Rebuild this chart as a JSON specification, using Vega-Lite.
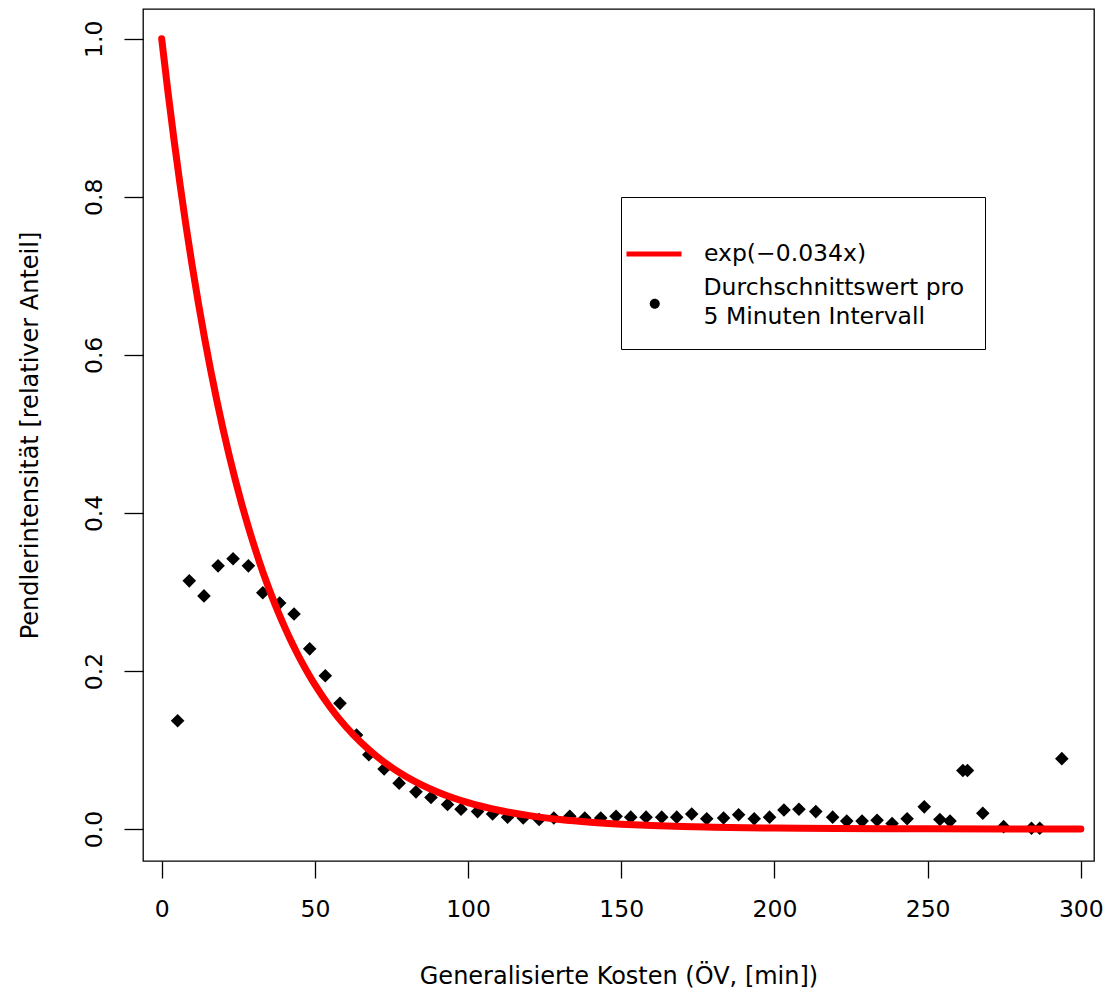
{
  "$schema": "https://vega.github.io/schema/vega-lite/v6.json",
  "width": 951,
  "height": 852,
  "autosize": {"type": "none"},
  "padding": {"left": 143, "top": 9, "right": 15, "bottom": 131},
  "background": "white",
  "config": {
    "view": {"stroke": "black", "strokeWidth": 1.3},
    "font": "DejaVu Sans",
    "style": {"guide-label": {"lineHeight": 29}}
  },
  "resolve": {"scale": {"color": "independent"}, "legend": {"color": "independent"}},
  "datasets": {
    "pts": [
      {"x": 5.2, "y": 0.137}, {"x": 9.0, "y": 0.314}, {"x": 13.8, "y": 0.295}, {"x": 18.4, "y": 0.333},
      {"x": 23.3, "y": 0.342}, {"x": 28.3, "y": 0.333}, {"x": 33.0, "y": 0.299}, {"x": 38.5, "y": 0.286},
      {"x": 43.2, "y": 0.272}, {"x": 48.3, "y": 0.228}, {"x": 53.4, "y": 0.194}, {"x": 58.2, "y": 0.159},
      {"x": 63.6, "y": 0.119}, {"x": 67.6, "y": 0.094}, {"x": 72.6, "y": 0.076}, {"x": 77.5, "y": 0.058},
      {"x": 83.0, "y": 0.047}, {"x": 87.9, "y": 0.040}, {"x": 93.3, "y": 0.031}, {"x": 97.7, "y": 0.025},
      {"x": 103.1, "y": 0.022}, {"x": 108.0, "y": 0.019}, {"x": 112.9, "y": 0.015}, {"x": 118.0, "y": 0.014},
      {"x": 123.2, "y": 0.012}, {"x": 128.0, "y": 0.014}, {"x": 133.2, "y": 0.016}, {"x": 138.1, "y": 0.014},
      {"x": 143.3, "y": 0.014}, {"x": 148.3, "y": 0.016}, {"x": 153.1, "y": 0.015}, {"x": 158.1, "y": 0.015},
      {"x": 163.2, "y": 0.015}, {"x": 168.1, "y": 0.015}, {"x": 173.0, "y": 0.019}, {"x": 177.9, "y": 0.013},
      {"x": 183.4, "y": 0.014}, {"x": 188.3, "y": 0.018}, {"x": 193.4, "y": 0.013}, {"x": 198.4, "y": 0.015},
      {"x": 203.1, "y": 0.024}, {"x": 208.0, "y": 0.025}, {"x": 213.5, "y": 0.022}, {"x": 219.0, "y": 0.015},
      {"x": 223.6, "y": 0.010}, {"x": 228.6, "y": 0.010}, {"x": 233.5, "y": 0.011}, {"x": 238.4, "y": 0.007},
      {"x": 243.3, "y": 0.013}, {"x": 248.9, "y": 0.028}, {"x": 254.0, "y": 0.012}, {"x": 257.3, "y": 0.010},
      {"x": 261.5, "y": 0.074}, {"x": 263.0, "y": 0.074}, {"x": 268.0, "y": 0.020}, {"x": 274.8, "y": 0.003},
      {"x": 283.9, "y": 0.001}, {"x": 286.6, "y": 0.001}, {"x": 293.8, "y": 0.089}
    ],
    "curve": [
      {"x": 0, "y": 1}, {"x": 2, "y": 0.93426}, {"x": 4, "y": 0.87284}, {"x": 6, "y": 0.81546},
      {"x": 8, "y": 0.76185}, {"x": 10, "y": 0.71177}, {"x": 12, "y": 0.66498}, {"x": 14, "y": 0.62126},
      {"x": 16, "y": 0.58042}, {"x": 18, "y": 0.54226}, {"x": 20, "y": 0.50662}, {"x": 22, "y": 0.47331},
      {"x": 24, "y": 0.4422}, {"x": 26, "y": 0.41313}, {"x": 28, "y": 0.38597}, {"x": 30, "y": 0.36059},
      {"x": 32, "y": 0.33689}, {"x": 34, "y": 0.31474}, {"x": 36, "y": 0.29405}, {"x": 38, "y": 0.27472},
      {"x": 40, "y": 0.25666}, {"x": 42, "y": 0.23979}, {"x": 44, "y": 0.22402}, {"x": 46, "y": 0.2093},
      {"x": 48, "y": 0.19554}, {"x": 50, "y": 0.18268}, {"x": 55, "y": 0.15412}, {"x": 60, "y": 0.13003},
      {"x": 65, "y": 0.1097}, {"x": 70, "y": 0.09255}, {"x": 75, "y": 0.07808}, {"x": 80, "y": 0.06588},
      {"x": 85, "y": 0.05558}, {"x": 90, "y": 0.04689}, {"x": 95, "y": 0.03956}, {"x": 100, "y": 0.03337},
      {"x": 110, "y": 0.02375}, {"x": 120, "y": 0.01691}, {"x": 130, "y": 0.01203}, {"x": 140, "y": 0.00857},
      {"x": 150, "y": 0.0061}, {"x": 160, "y": 0.00434}, {"x": 170, "y": 0.00309}, {"x": 180, "y": 0.0022},
      {"x": 200, "y": 0.00111}, {"x": 220, "y": 0.00056}, {"x": 250, "y": 0.0002}, {"x": 300, "y": 0.00004}
    ]
  },
  "encoding": {
    "x": {
      "field": "x", "type": "quantitative",
      "scale": {"domain": [-6.1, 304.3], "nice": false, "zero": false},
      "axis": {
        "values": [0, 50, 100, 150, 200, 250, 300],
        "domain": false, "grid": false,
        "tickSize": 17, "tickWidth": 1.3, "tickColor": "black",
        "labelFont": "DejaVu Sans", "labelFontSize": 23.5, "labelColor": "black",
        "labelBaseline": "alphabetic", "labelPadding": 38, "labelFlush": false, "labelOverlap": false,
        "title": "Generalisierte Kosten (ÖV, [min])",
        "titleFont": "DejaVu Sans", "titleFontSize": 24, "titleFontWeight": "normal", "titleColor": "black",
        "titleBaseline": "alphabetic", "titleY": 122
      }
    },
    "y": {
      "field": "y", "type": "quantitative",
      "scale": {"domain": [-0.0405, 1.0377], "nice": false, "zero": false},
      "axis": {
        "values": [0, 0.2, 0.4, 0.6, 0.8, 1.0], "format": ".1f",
        "domain": false, "grid": false,
        "tickSize": 19, "tickWidth": 1.3, "tickColor": "black",
        "labelFont": "DejaVu Sans", "labelFontSize": 23.5, "labelColor": "black",
        "labelAngle": 270, "labelAlign": "center", "labelBaseline": "bottom", "labelPadding": 18,
        "labelFlush": false, "labelOverlap": false,
        "title": "Pendlerintensität [relativer Anteil]",
        "titleFont": "DejaVu Sans", "titleFontSize": 24, "titleFontWeight": "normal", "titleColor": "black",
        "titleAngle": 270, "titleAlign": "center", "titleBaseline": "alphabetic", "titleX": -106, "titleY": 426
      }
    }
  },
  "layer": [
    {
      "data": {"name": "pts"},
      "mark": {"type": "point", "shape": "diamond", "filled": true, "size": 185, "opacity": 1},
      "encoding": {
        "color": {
          "datum": "Durchschnittswert pro|5 Minuten Intervall", "type": "nominal",
          "scale": {"range": ["#000000"]},
          "legend": {
            "orient": "none", "legendX": 478, "legendY": 188,
            "title": " ", "titleFontSize": 40, "titlePadding": 19,
            "padding": 20, "strokeColor": "black",
            "symbolType": "M -1 3.2 A 1 1 0 1 0 1 3.2 A 1 1 0 1 0 -1 3.2 Z",
            "symbolSize": 100, "symbolStrokeWidth": 0, "symbolOpacity": 1,
            "symbolOffset": 2, "labelOffset": 37,
            "labelFont": "DejaVu Sans", "labelFontSize": 23.5, "labelColor": "black", "labelLimit": 0,
            "labelExpr": "split(datum.label, '|')"
          }
        }
      }
    },
    {
      "data": {"name": "curve"},
      "mark": {"type": "line", "strokeWidth": 7, "strokeCap": "round", "strokeJoin": "round", "interpolate": "monotone"},
      "encoding": {
        "color": {
          "datum": "exp(−0.034x)", "type": "nominal",
          "scale": {"range": ["#ff0000"]},
          "legend": {
            "orient": "none", "legendX": 481, "legendY": 215,
            "title": null, "padding": 0,
            "symbolType": "stroke", "symbolSize": 3025, "symbolStrokeWidth": 5, "symbolOpacity": 1,
            "symbolOffset": 0, "labelOffset": 20,
            "labelFont": "DejaVu Sans", "labelFontSize": 23.5, "labelColor": "black", "labelLimit": 0
          }
        }
      }
    }
  ]
}
